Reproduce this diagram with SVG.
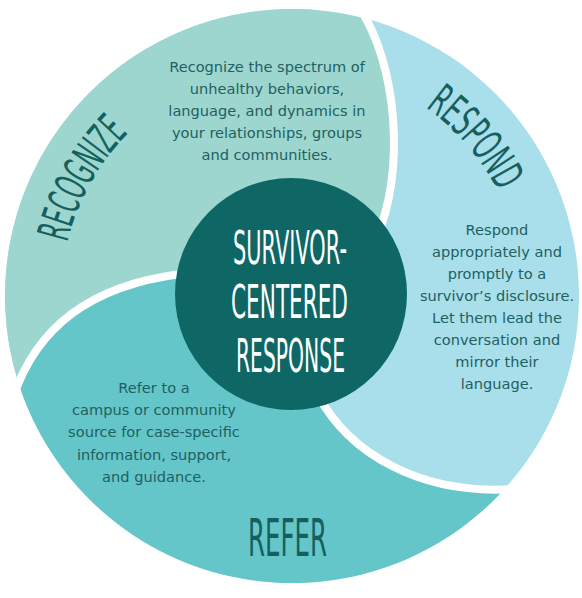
<svg xmlns="http://www.w3.org/2000/svg" width="582" height="598" viewBox="0 0 582 598">
  <defs>
    <style>
      .body { font-family: "DejaVu Sans", "Liberation Sans", sans-serif; font-size: 14.6px; fill: #1f6062; text-anchor: middle; }
      .hand { font-family: "DejaVu Sans", "Liberation Sans", sans-serif; font-weight: normal; fill: #15605f; }
      .white { fill: #ffffff; }
      .gap { fill: none; stroke: #ffffff; stroke-width: 8; stroke-linecap: butt; }
    </style>
    <path id="arcRecognize" d="M 67.3,242.5 A 231 231 0 0 1 128.4,132.9"/>
    <path id="arcRespond" d="M 425.5,107.5 A 231 231 0 0 1 497.8,191.1"/>
  </defs>

  <rect width="582" height="598" fill="#ffffff"/>

  <g id="respond">
    <circle cx="292" cy="296" r="287" fill="#a9dfea"/>
    <text class="hand" font-size="44" textLength="112" lengthAdjust="spacingAndGlyphs"><textPath href="#arcRespond">RESPOND</textPath></text>
    <text class="body" x="497" y="235">Respond</text>
    <text class="body" x="497" y="257">appropriately and</text>
    <text class="body" x="497" y="279">promptly to a</text>
    <text class="body" x="497" y="301">survivor’s disclosure.</text>
    <text class="body" x="497" y="323">Let them lead the</text>
    <text class="body" x="497" y="345">conversation and</text>
    <text class="body" x="497" y="367">mirror their</text>
    <text class="body" x="497" y="389">language.</text>
  </g>

  <g id="recognize">
    <path d="M 18.5,383 A 287 287 0 0 1 366,18.7 C 400,80 405,190 370,250 L 291,294 L 200,272 C 100,280 45,320 18.5,383 Z" fill="#9dd6ce"/>
    <text class="hand" font-size="44" textLength="127" lengthAdjust="spacingAndGlyphs"><textPath href="#arcRecognize">RECOGNIZE</textPath></text>
    <text class="body" x="267" y="72">Recognize the spectrum of</text>
    <text class="body" x="267" y="94">unhealthy behaviors,</text>
    <text class="body" x="267" y="116">language, and dynamics in</text>
    <text class="body" x="267" y="138">your relationships, groups</text>
    <text class="body" x="267" y="160">and communities.</text>
  </g>

  <g id="refer">
    <path d="M 18.5,383 A 287 287 0 0 0 504,489.5 C 420,492 350,455 318,395 L 291,294 L 200,272 C 100,280 45,320 18.5,383 Z" fill="#64c6c8"/>
    <text class="hand" x="248" y="556" font-size="52" textLength="79" lengthAdjust="spacingAndGlyphs">REFER</text>
    <text class="body" x="154" y="393">Refer to a</text>
    <text class="body" x="154" y="415">campus or community</text>
    <text class="body" x="154" y="437">source for case-specific</text>
    <text class="body" x="154" y="460">information, support,</text>
    <text class="body" x="154" y="482">and guidance.</text>
  </g>

  <g id="connectors">
    <path class="gap" d="M 360,8 L 366,18.7 C 400,80 405,190 370,250"/>
    <path class="gap" d="M 318,395 C 350,455 420,492 504,489.5 L 518,489"/>
    <path class="gap" d="M 14,394 L 18.5,383 C 45,320 100,280 200,272"/>
  </g>

  <g id="center">
    <circle cx="291" cy="294" r="116" fill="#0e6764"/>
    <text class="hand white" x="233" y="264" font-size="47" textLength="114" lengthAdjust="spacingAndGlyphs">SURVIVOR-</text>
    <text class="hand white" x="231" y="318" font-size="47" textLength="117" lengthAdjust="spacingAndGlyphs">CENTERED</text>
    <text class="hand white" x="236" y="372" font-size="47" textLength="109" lengthAdjust="spacingAndGlyphs">RESPONSE</text>
  </g>
</svg>
